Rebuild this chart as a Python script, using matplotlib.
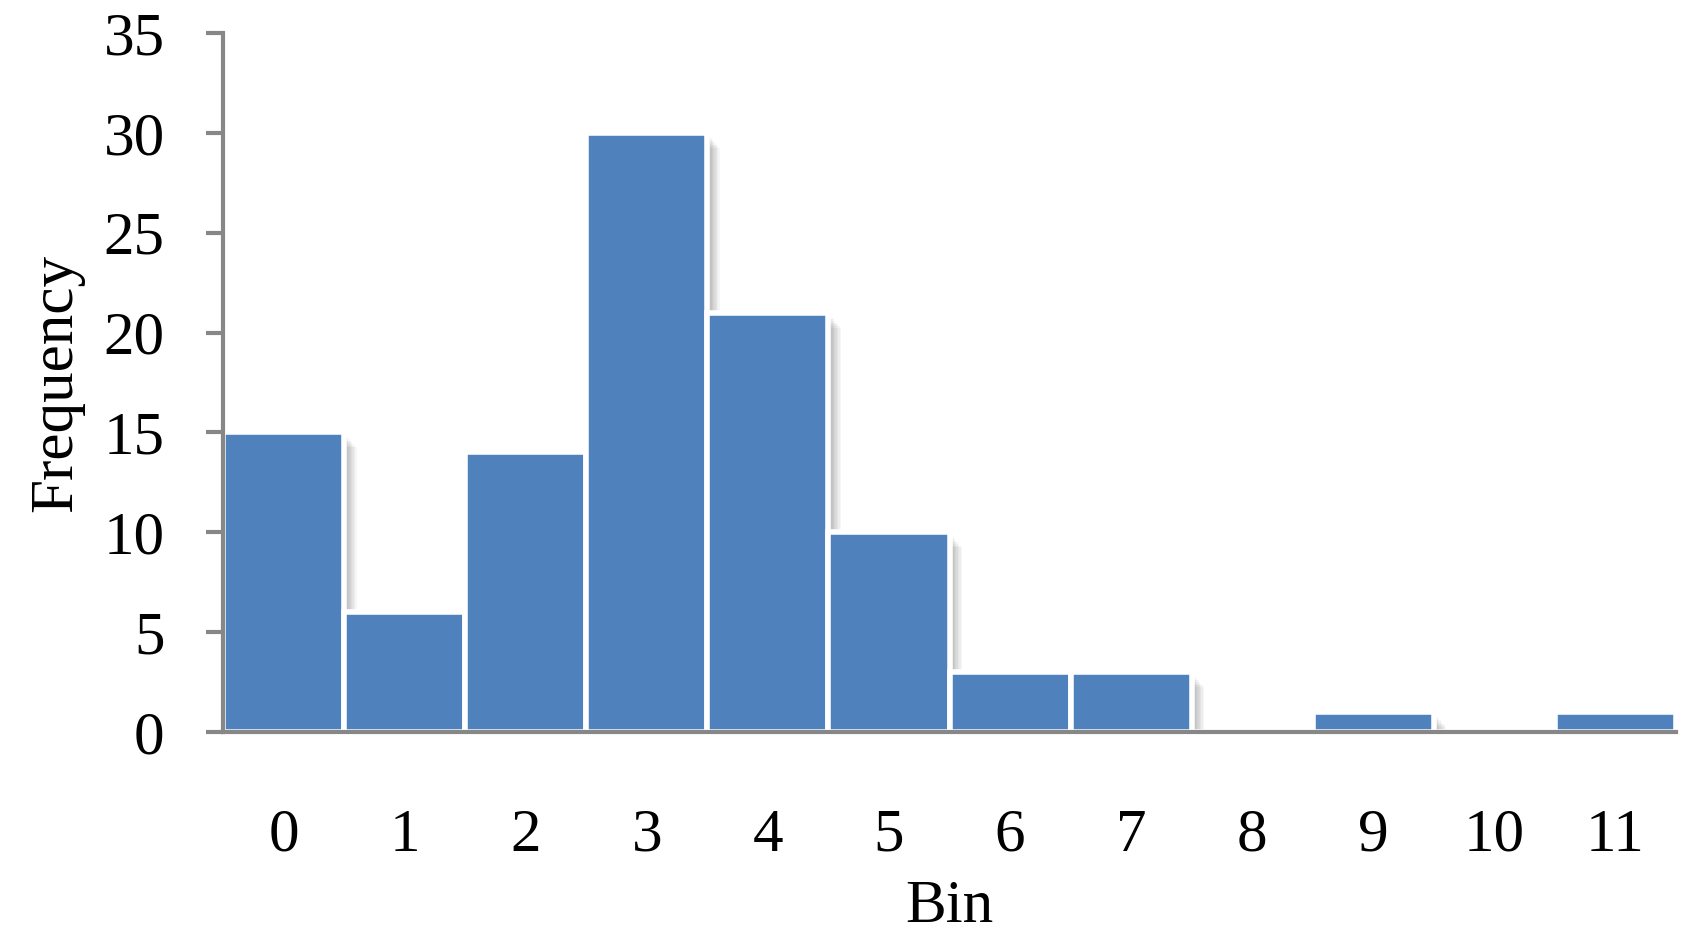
import matplotlib
matplotlib.use('Agg')
import matplotlib.pyplot as plt
import matplotlib.patheffects as pe
import numpy as np

bins = ['0', '1', '2', '3', '4', '5', '6', '7', '8', '9', '10', '11']
freq = [15, 6, 14, 30, 21, 10, 3, 3, 0, 1, 0, 1]

bar_blue = '#4F81BD'
axis_gray = '#878787'

plt.rc('font', family='Liberation Serif')

fig = plt.figure(figsize=(16.87, 9.46), dpi=100)
ax = fig.add_axes([0.1322, 0.2262, 0.8613, 0.7389])

x = np.arange(len(bins))

# soft shadow on the right side of each bar
shadow = [pe.SimplePatchShadow(offset=(d, -d * 1.2), shadow_rgbFace='#000000', alpha=0.035)
          for d in (2, 3, 4, 5, 6, 7, 8, 9)]
bars = ax.bar(x, freq, width=1.0, color=bar_blue, edgecolor='white', linewidth=4,
              zorder=2)
for b in bars:
    if b.get_height() > 0:
        b.set_path_effects(shadow + [pe.Normal()])

ax.set_xlim(-0.5, 11.5)
ax.set_ylim(0, 35)
ax.set_yticks(np.arange(0, 36, 5))
ax.set_xticks(x)
ax.set_xticklabels(bins)

for s in ['top', 'right']:
    ax.spines[s].set_visible(False)
for s in ['left', 'bottom']:
    ax.spines[s].set_color(axis_gray)
    ax.spines[s].set_linewidth(3)
    ax.spines[s].set_zorder(3)

ax.tick_params(axis='y', length=12, width=3, color=axis_gray, pad=30, labelsize=44)
ax.tick_params(axis='x', length=0, pad=55, labelsize=44)

ax.set_ylabel('Frequency', fontsize=44, labelpad=14)
ax.set_xlabel('Bin', fontsize=44, labelpad=11)

fig.savefig('out.png', dpi=100)
